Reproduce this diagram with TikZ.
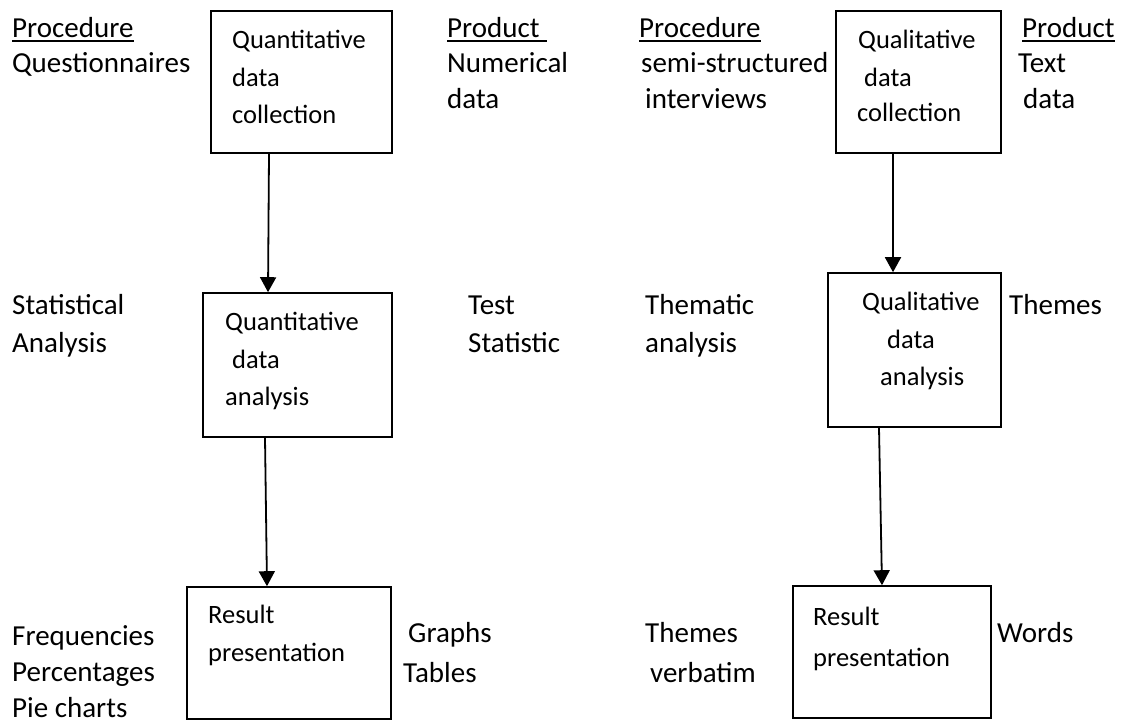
\documentclass[tikz,border=0pt]{standalone}
\usepackage{fontspec}
\setmainfont{Carlito}
\usetikzlibrary{arrows.meta}
\tikzset{>={Triangle[length=15pt,width=16pt]}}

\begin{document}
\begin{tikzpicture}[x=1pt,y=-1pt,
    box/.style={draw, line width=1.6pt, inner sep=0pt},
    flow/.style={->, line width=1.8pt},
    uline/.style={line width=1.6pt},
    lbl/.style={anchor=base west, inner sep=0pt, font=\fontsize{29}{35}\selectfont},
    inlbl/.style={anchor=base west, inner sep=0pt, font=\fontsize{26.5}{37}\selectfont}]
    \useasboundingbox (0,0) rectangle (1123,726);
    % boxes
    \node [box, minimum width=181pt, minimum height=142pt] (qncoll) at (301.5,82) {};
    \node [box, minimum width=189pt, minimum height=144pt] (qnana) at (297.5,365) {};
    \node [box, minimum width=204pt, minimum height=132pt] (qnres) at (289,653) {};
    \node [box, minimum width=165pt, minimum height=142pt] (qlcoll) at (918.5,82) {};
    \node [box, minimum width=173pt, minimum height=154pt] (qlana) at (914.5,350) {};
    \node [box, minimum width=198pt, minimum height=132pt] (qlres) at (892,652) {};
    % arrows
    \draw [flow] ([xshift=-32.5pt]qncoll.south) -- ([xshift=-29.5pt]qnana.north);
    \draw [flow] ([xshift=-32.5pt]qnana.south) -- ([xshift=-22pt]qnres.north);
    \draw [flow] ([xshift=-25.5pt]qlcoll.south) -- ([xshift=-21.5pt]qlana.north);
    \draw [flow] ([xshift=-35.5pt]qlana.south) -- ([xshift=-10pt]qlres.north);
    % text in the boxes
    \node [inlbl] (qnc1) at (232,48) {Quantitative};
    \node [inlbl] (qnc2) at (232,86) {data};
    \node [inlbl] (qnc3) at (232,123) {collection};
    \node [inlbl] (qna1) at (225,330) {Quantitative};
    \node [inlbl] (qna2) at (232,368) {data};
    \node [inlbl] (qna3) at (225,405) {analysis};
    \node [inlbl] (qnr1) at (208,623) {Result};
    \node [inlbl] (qnr2) at (208,661) {presentation};
    \node [inlbl] (qlc1) at (858,48) {Qualitative};
    \node [inlbl] (qlc2) at (864,86) {data};
    \node [inlbl] (qlc3) at (857,121) {collection};
    \node [inlbl] (qla1) at (862,310) {Qualitative};
    \node [inlbl] (qla2) at (887,348) {data};
    \node [inlbl] (qla3) at (880,385) {analysis};
    \node [inlbl] (qlr1) at (813,625) {Result};
    \node [inlbl] (qlr2) at (813,666) {presentation};
    % left column
    \node [lbl] (procl) at (12,37) {Procedure};
    \node [lbl] (quest) at (12,72) {Questionnaires};
    \node [lbl] (stat) at (12,314) {Statistical};
    \node [lbl] (anal) at (12,352) {Analysis};
    \node [lbl] (freq) at (12,645) {Frequencies};
    \node [lbl] (perc) at (12,681) {Percentages};
    \node [lbl] (pie) at (12,717) {Pie charts};
    % quantitative products
    \node [lbl] (prodl) at (447,37) {Product};
    \node [lbl] (numer) at (447,72) {Numerical};
    \node [lbl] (ndata) at (447,108) {data};
    \node [lbl] (test) at (468,314) {Test};
    \node [lbl] (tstat) at (468,352) {Statistic};
    \node [lbl] (graph) at (408,642) {Graphs};
    \node [lbl] (table) at (403,682) {Tables};
    % qualitative procedures
    \node [lbl] (procr) at (639,37) {Procedure};
    \node [lbl] (semi) at (641,72) {semi-structured};
    \node [lbl] (intv) at (645,108) {interviews};
    \node [lbl] (thema) at (645,314) {Thematic};
    \node [lbl] (tanal) at (645,352) {analysis};
    \node [lbl] (themb) at (645,642) {Themes};
    \node [lbl] (verb) at (650,682) {verbatim};
    % qualitative products
    \node [lbl] (prodr) at (1022,37) {Product};
    \node [lbl] (textd) at (1018,72) {Text};
    \node [lbl] (tdata) at (1023,108) {data};
    \node [lbl] (themr) at (1009,314) {Themes};
    \node [lbl] (words) at (997,642) {Words};
    % underlines
    \draw [uline] ([yshift=-4pt]procl.base west) -- ([yshift=-4pt]procl.base east);
    \draw [uline] ([yshift=-4pt]prodl.base west) -- ([yshift=-4pt,xshift=7pt]prodl.base east);
    \draw [uline] ([yshift=-4pt]procr.base west) -- ([yshift=-4pt]procr.base east);
    \draw [uline] ([yshift=-4pt]prodr.base west) -- ([yshift=-4pt]prodr.base east);
\end{tikzpicture}
\end{document}
